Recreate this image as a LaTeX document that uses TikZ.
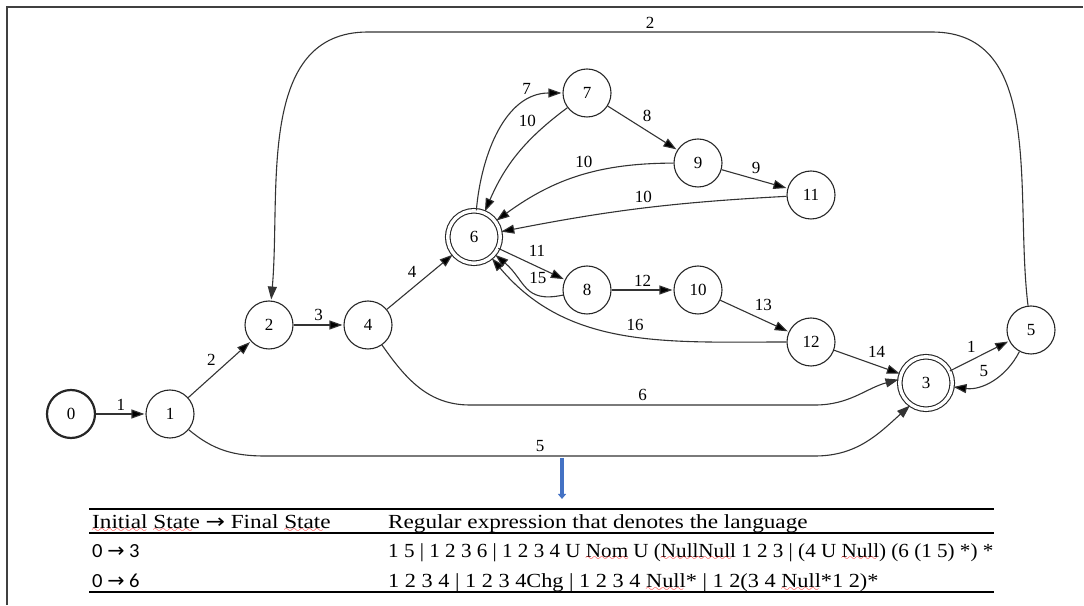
\documentclass[tikz,border=0pt]{standalone}
\usepackage{fontspec}
\setmainfont{Liberation Serif}
\newfontfamily\calibrifont{Carlito}
\newfontfamily\arrowfont{DejaVu Sans}
\usetikzlibrary{arrows.meta}
\usetikzlibrary{automata,positioning}

\definecolor{wordblue}{HTML}{4472C4}
\definecolor{framegray}{HTML}{404040}

\newcommand\graphfont{\fontsize{17}{19}\selectfont}
\newcommand\tabfont{\fontsize{20}{24}\selectfont}
% red wavy underline of the spell checker
\font\spellwave=lasy10
\newsavebox\spellbox
\newcommand\spellmark[1]{\sbox\spellbox{#1}\rlap{\usebox\spellbox}%
  \textcolor{red}{\lower4pt\hbox to\wd\spellbox{\leaders\hbox{\spellwave\char58}\hfill}}}
\newcommand\wide[2][1.16]{\scalebox{#1}[1]{#2}}

\begin{document}
\begin{tikzpicture}[x=1pt,y=1pt,shorten >=1pt,on grid,auto,font=\graphfont,
    >={Triangle[length=13pt,width=9pt]},
    every state/.style={draw=black!85,line width=1.1pt,minimum size=48pt,inner sep=0pt},
    accepting/.style={double,double distance=3.4pt,minimum size=52.5pt},
    trans/.style={->,draw=black!80,line width=1.1pt},
    tabcell/.style={anchor=base west,inner sep=0pt,font=\tabfont}]
  \useasboundingbox (0,0) rectangle (1084,605);
  \draw[framegray,line width=2.2pt] (7,0) -- (7,598) -- (1084,598);

  \node[state,line width=2.2pt] (q0) at (71,191) {0};
  \node[state] [right=99pt of q0] (q1) {1};
  \node[state] [above right=89pt and 99pt of q1] (q2) {2};
  \node[state] [right=99pt of q2] (q4) {4};
  \node[state,accepting] [above right=88pt and 106pt of q4] (q6) {6};
  \node[state] [above right=144pt and 113pt of q6] (q7) {7};
  \node[state] [below right=70pt and 111pt of q7] (q9) {9};
  \node[state] [below right=32pt and 113pt of q9] (q11) {11};
  \node[state] [below right=53pt and 113pt of q6] (q8) {8};
  \node[state] [right=111pt of q8] (q10) {10};
  \node[state] [below right=52pt and 113pt of q10] (q12) {12};
  \node[state,accepting] [below right=41pt and 115pt of q12] (q3) {3};
  \node[state] [above right=53pt and 105pt of q3] (q5) {5};

  \path[trans]
    (q0) edge node {1} (q1)
    (q1) edge node {2} (q2)
    (q2) edge node {3} (q4)
    (q4) edge node {4} (q6)
    (q6) edge [out=85,in=180] node [pos=.82] {7} (q7)
         edge node [pos=.4] {11} (q8)
    (q7) edge [bend right=15] node [swap,pos=.25] {10} (q6)
         edge node [pos=.45] {8} (q9)
    (q9) edge [bend right=18] node [swap,pos=.4] {10} (q6)
         edge node [pos=.4] {9} (q11)
    (q11) edge [bend right=4] node [swap,pos=.45] {10} (q6)
    (q8) edge [out=192,in=-40,looseness=1.3] node [swap] {15} (q6)
         edge node {12} (q10)
    (q10) edge node [pos=.45] {13} (q12)
    (q12) edge [out=180,in=-50] node [swap] {16} (q6)
          edge node [pos=.45] {14} (q3)
    (q3) edge node {1} (q5)
    (q5) edge [bend left=35] node [swap] {5} (q3);

  % long edges run flat between two bend points
  \coordinate (b6) at (470,200);
  \coordinate (c6) at (815,200);
  \coordinate (b5) at (265,149);
  \coordinate (c5) at (815,149);
  \coordinate (b2) at (932,573);
  \coordinate (c2) at (368,573);
  \draw[trans] (q4) to[out=-55,in=180] (b6) -- node {6} (c6) to[out=0,in=195] (q3.172);
  \draw[trans] (q1) to[out=-40,in=180] (b5) -- node {5} (c5) to[out=0,in=222] (q3.235);
  \draw[trans] (q5) to[out=97,in=0] (b2) -- node [swap] {2} (c2) to[out=180,in=85] (q2);

  % arrow down to the table
  \coordinate (down1) at (562,147);
  \coordinate (down2) at (562,106);
  \draw[wordblue,line width=3.8pt,-{Triangle[length=5pt,width=8pt]},shorten >=0pt] (down1) -- (down2);

  % table
  \draw[line width=1.6pt] (89,96) -- (995,96);
  \draw[line width=1.2pt] (89,72) -- (995,72);
  \draw[line width=1.6pt] (89,13) -- (995,13);
  \node[tabcell] (headA) at (92,76) {\wide{\spellmark{Initial} \spellmark{State} {\arrowfont →} Final \spellmark{State}}};
  \node[tabcell] (headB) at (388,76) {\wide{Regular expression that denotes the language}};
  \node[tabcell] (rowAa) at (92,48) {\wide[1.03]{\calibrifont 0 {\arrowfont →} 3}};
  \node[tabcell] (rowAb) at (388,48) {\wide[1.055]{1 5 | 1 2 3 6 | 1 2 3 4 U \spellmark{Nom} U (\spellmark{NullNull} 1 2 3 | (4 U \spellmark{Null}) (6 (1 5) *) *}};
  \node[tabcell] (rowBa) at (92,17) {\wide[1.03]{\calibrifont 0 {\arrowfont →} 6}};
  \node[tabcell] (rowBb) at (388,17) {\wide[1.115]{1 2 3 4 | 1 2 3 4Chg | 1 2 3 4 \spellmark{Null}* | 1 2(3 4 \spellmark{Null}*1 2)*}};
\end{tikzpicture}
\end{document}
